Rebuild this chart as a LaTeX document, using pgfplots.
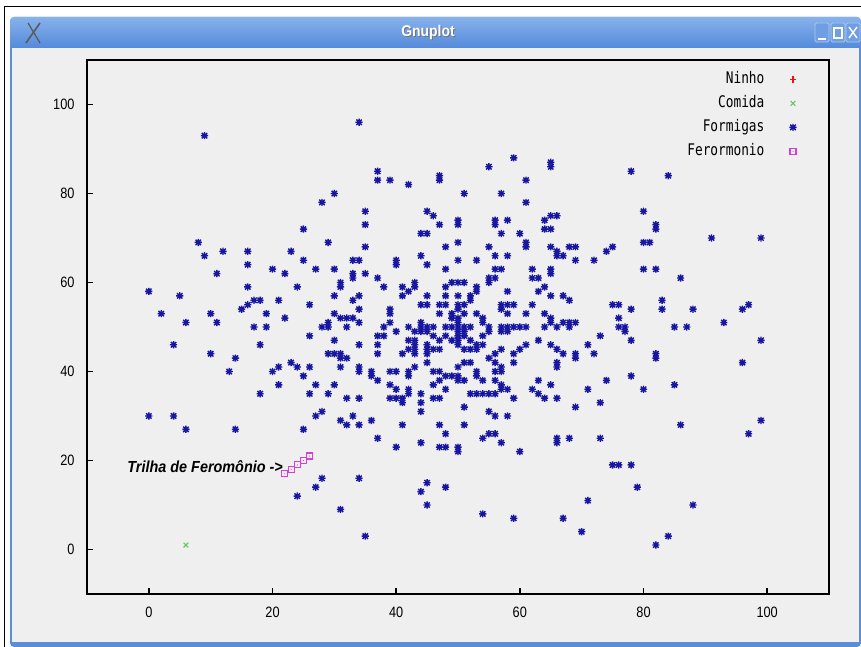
\documentclass[border=0pt]{standalone}
\usepackage{pgfplots}
\pgfplotsset{compat=1.18}
\usepackage{fontspec}
\setmainfont{Liberation Sans}
\newfontfamily\tickfont[FakeStretch=0.85]{Liberation Sans}
\newfontfamily\keyfont[FakeStretch=0.8]{DejaVu Sans Mono}
\newfontfamily\notefont[FakeStretch=0.9]{Liberation Sans}
\newfontfamily\titlefont[FakeStretch=0.9]{Liberation Sans}

\definecolor{bodygray}{RGB}{239,239,239}
\definecolor{barTop}{RGB}{135,178,236}
\definecolor{barBot}{RGB}{84,138,218}
\definecolor{frameblue}{RGB}{92,142,216}
\definecolor{btnblue}{RGB}{112,158,226}
\definecolor{btnedge}{RGB}{170,200,242}
\definecolor{antblue}{RGB}{22,22,160}
\definecolor{foodgreen}{RGB}{96,200,96}
\definecolor{phermag}{RGB}{212,64,212}
\definecolor{nestred}{RGB}{235,20,20}

% gnuplot-style point types
\pgfdeclareplotmark{gpstar}{%
  \pgfpathmoveto{\pgfqpoint{-\pgfplotmarksize}{0pt}}\pgfpathlineto{\pgfqpoint{\pgfplotmarksize}{0pt}}%
  \pgfpathmoveto{\pgfqpoint{0pt}{-\pgfplotmarksize}}\pgfpathlineto{\pgfqpoint{0pt}{\pgfplotmarksize}}%
  \pgfpathmoveto{\pgfqpoint{-0.75\pgfplotmarksize}{-0.75\pgfplotmarksize}}\pgfpathlineto{\pgfqpoint{0.75\pgfplotmarksize}{0.75\pgfplotmarksize}}%
  \pgfpathmoveto{\pgfqpoint{-0.75\pgfplotmarksize}{0.75\pgfplotmarksize}}\pgfpathlineto{\pgfqpoint{0.75\pgfplotmarksize}{-0.75\pgfplotmarksize}}%
  \pgfusepathqstroke}
\pgfdeclareplotmark{sqdot}{%
  \pgfpathrectangle{\pgfqpoint{-\pgfplotmarksize}{-\pgfplotmarksize}}{\pgfqpoint{2\pgfplotmarksize}{2\pgfplotmarksize}}%
  \pgfusepathqstroke
  \pgfpathcircle{\pgfpointorigin}{0.6pt}\pgfusepathqfill}

% food source
\pgfplotstableread{
x y
6 1
}\comida

% pheromone trail
\pgfplotstableread{
x y
22 17
23 18
24 19
25 20
26 21
}\feromonio

% ant positions
\pgfplotstableread{
x y
9 93
30 80
28 78
25 72
8 69
29 69
9 66
12 67
16 67
23 67
16 64
25 65
20 63
22 62
27 63
30 63
11 62
16 59
24 59
31 60
31 59
30 57
0 58
5 57
2 53
6 51
10 53
11 51
15 54
16 55
17 56
18 56
21 56
19 53
22 52
26 55
30 53
31 52
32 52
29 51
17 50
19 50
28 50
29 50
32 50
34 96
37 85
37 83
39 83
42 82
47 83
47 84
55 86
59 88
65 86
65 87
61 83
51 80
57 80
61 78
35 76
35 73
35 68
45 76
46 75
47 73
50 73
50 74
56 73
56 74
58 74
64 74
65 75
66 75
64 72
65 72
44 71
45 71
57 71
60 71
50 69
61 68
61 69
48 68
55 68
65 68
66 67
44 66
56 66
58 66
66 66
33 65
34 65
40 65
40 64
45 64
50 65
53 65
48 63
56 63
57 63
62 63
65 62
65 63
33 62
33 61
35 62
37 61
38 59
41 59
42 58
43 59
43 60
41 57
45 57
48 59
48 57
49 60
50 60
51 60
50 57
52 57
53 59
53 58
55 60
55 61
56 61
58 58
62 61
63 61
64 59
63 58
65 57
34 57
33 56
34 54
33 52
34 51
39 54
39 53
39 51
44 55
45 55
47 55
48 55
50 54
50 55
51 55
52 56
47 53
49 52
49 53
50 51
50 52
51 53
53 53
54 51
54 52
57 54
57 55
58 55
59 55
58 53
61 53
62 55
64 53
65 51
65 52
44 51
38 50
42 50
44 50
45 50
46 50
48 50
49 50
50 50
51 50
52 50
55 50
57 50
58 50
59 50
60 50
61 50
64 50
66 50
78 85
84 84
80 76
82 72
82 73
91 70
99 70
80 69
81 69
68 68
69 68
74 67
75 68
67 66
69 65
72 65
80 63
82 63
86 61
67 57
68 56
75 55
76 55
78 54
83 56
83 54
88 54
96 54
97 55
67 51
68 51
69 51
68 50
76 52
76 50
77 50
85 50
87 50
93 51
4 46
18 46
26 48
30 47
10 44
14 43
13 40
29 44
30 44
31 44
31 43
32 43
31 41
21 41
20 40
23 42
24 41
26 41
25 39
21 37
27 37
30 37
18 35
26 35
29 35
32 34
27 30
28 31
31 29
32 28
0 30
4 30
6 27
14 27
25 27
28 16
27 14
24 12
31 9
37 48
38 48
40 49
43 49
44 49
45 49
50 49
51 49
55 49
57 49
58 49
34 46
37 46
37 44
42 47
43 46
43 47
45 46
46 48
47 47
48 48
49 47
50 47
50 46
50 48
51 48
52 47
53 46
53 45
54 48
54 46
51 45
52 45
42 45
41 44
43 45
43 44
45 45
46 45
47 45
45 44
45 42
43 41
55 43
56 44
57 45
59 44
60 45
61 46
63 47
65 46
66 45
56 42
57 41
59 42
50 41
51 42
52 42
66 41
66 42
34 41
34 40
36 39
36 40
37 38
39 40
40 40
42 39
42 40
46 40
47 40
47 38
46 37
48 39
49 39
50 38
51 38
50 39
53 39
53 40
54 38
56 40
57 40
56 38
57 37
57 36
58 36
59 34
39 37
40 36
42 36
39 34
40 34
41 34
42 35
41 33
44 35
44 33
44 31
46 34
47 34
48 36
52 35
53 35
54 35
55 35
56 35
51 32
55 31
56 30
58 30
62 36
63 35
64 34
63 38
65 37
66 34
34 34
33 30
34 28
36 29
41 28
47 28
48 26
51 28
37 25
40 23
44 24
47 23
48 23
50 23
50 22
54 25
55 26
56 26
57 24
60 22
66 25
66 24
34 16
45 15
44 13
48 14
45 10
54 8
59 7
35 3
73 48
77 49
71 46
78 47
99 47
67 44
69 44
69 43
72 44
82 44
82 43
96 42
74 38
78 39
71 36
80 36
85 37
73 33
69 32
86 28
99 29
97 26
68 25
73 25
75 19
76 19
78 19
79 14
71 11
88 10
67 7
70 4
82 1
84 3
}\formigas

\begin{document}
\begin{tikzpicture}[x=1pt,y=1pt]
\useasboundingbox (0,0) rectangle (861,647);
\fill[white] (0,0) rectangle (861,647);
\draw[black,line width=1pt] (4,0) -- (4,640) -- (861,640);

% window frame and title bar
\fill[frameblue,rounded corners=4pt] (10,0) rectangle (861,630);
\shade[top color=barTop,bottom color=barBot,rounded corners=4pt] (10,599) rectangle (861,630);
\fill[bodygray] (12,5) rectangle (859,599);
\node[text=black!55,font=\titlefont\bfseries\fontsize{15.5}{15.5}\selectfont] at (429,613) {Gnuplot};
\node[text=white,font=\titlefont\bfseries\fontsize{15.5}{15.5}\selectfont] at (428,614) {Gnuplot};

% window icon
\draw[gray!70!black,line width=1.6pt] (26,604) -- (40,624);
\draw[gray!70!black,line width=1.2pt] (40,604) -- (28,624);

% window buttons
\foreach \cx in {822,838,853}{
  \fill[btnblue,draw=btnedge,line width=0.8pt,rounded corners=1.5pt] (\cx-7,605) rectangle (\cx+7,624);
}
\draw[white,line width=1.6pt] (818,608) -- (826,608);
\draw[white,line width=1.2pt] (834,609) rectangle (842,619);
\draw[white,line width=1.4pt] (849,609) -- (857,620) (857,609) -- (849,620);

\begin{axis}[
  at={(87pt,53pt)}, anchor=south west,
  scale only axis, width=742pt, height=534pt,
  xmin=-10, xmax=110, ymin=-10, ymax=110,
  xtick={0,20,...,100}, ytick={0,20,...,100},
  tick pos=left, tick align=inside,
  major tick length=6pt,
  axis line style={line width=1.6pt, black},
  every tick/.style={line width=1.4pt, black},
  /pgf/number format/assume math mode=true,
  xticklabel style={font=\tickfont\fontsize{15}{15}\selectfont, yshift=-9pt},
  yticklabel style={font=\tickfont\fontsize{15}{15}\selectfont, xshift=-9pt},
  legend plot pos=right,
  legend cell align=right,
  legend style={draw=none, fill=none, inner sep=0pt,
    at={(0.9566,0.980)}, anchor=north east,
    font=\keyfont\fontsize{16}{16}\selectfont,
    nodes={inner sep=1pt, text height=12pt, text depth=3pt},
    row sep=7pt,
    /tikz/every odd column/.append style={column sep=24pt}},
  clip=false,
]
\addlegendimage{only marks, mark=+, draw=nestred, mark options={draw=nestred, line width=1.3pt}, mark size=3.4pt}
\addlegendentry{Ninho}

\addplot[only marks, mark=x, color=foodgreen, mark size=3.3pt, line width=1.1pt]
  table[x=x,y=y] {\comida};
\addlegendentry{Comida}

\addplot[only marks, mark=gpstar, color=antblue, mark size=3.6pt, line width=1.4pt]
  table[x=x,y=y] {\formigas};
\addlegendentry{Formigas}

\addplot[only marks, mark=sqdot, color=phermag, mark size=3pt, line width=1.1pt]
  table[x=x,y=y] {\feromonio};
\addlegendentry{Ferormonio}

\node[anchor=east, inner sep=0pt, font=\notefont\bfseries\itshape\fontsize{16}{16}\selectfont]
  at (axis cs:21.7,18.7) {Trilha de Feromônio ->};
\end{axis}
\end{tikzpicture}
\end{document}
